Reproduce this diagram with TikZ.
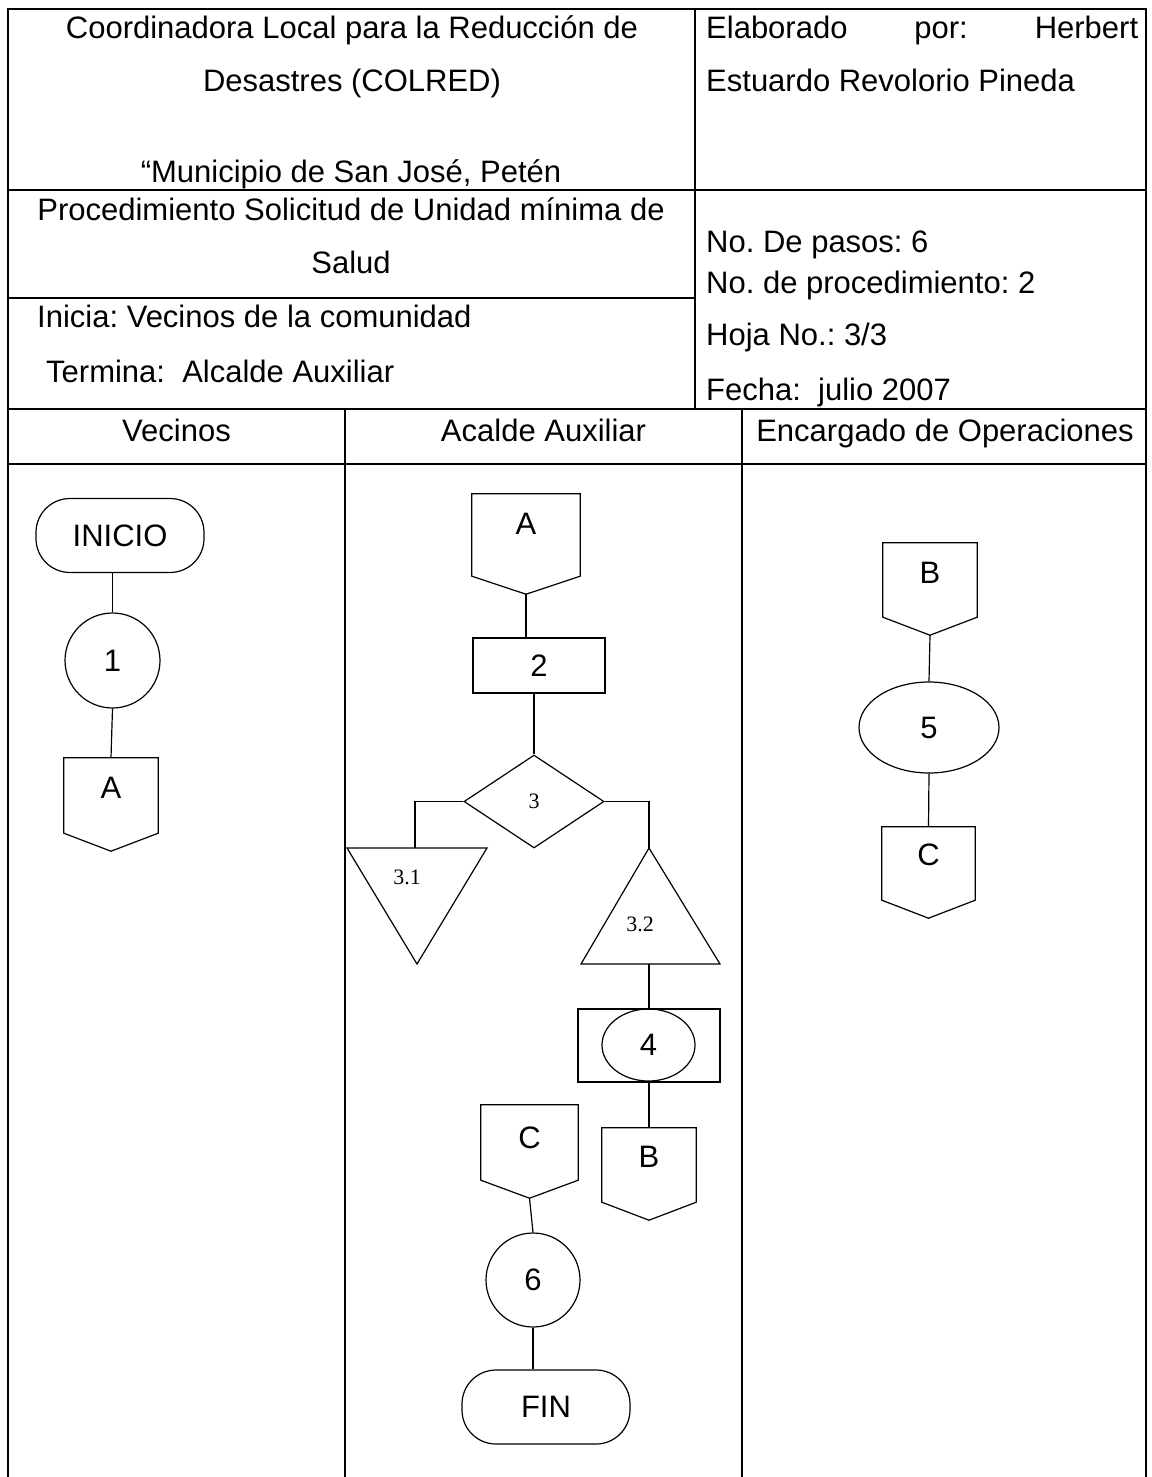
\documentclass[tikz,border=0pt]{standalone}
\usepackage{fontspec}
\setmainfont{Liberation Sans}
\newfontfamily\numfont{Liberation Serif}
\usetikzlibrary{shapes.geometric}
\frenchspacing
\newcommand{\offpg}[6]{%
  \node[opbox, minimum width=#3, minimum height=#4] (#1) at #2 {};
  \coordinate (#1-tip) at ([yshift=-18pt]#1.south);
  \draw[fline] (#1.north west) -- (#1.north east) -- (#1.south east) -- (#1-tip) -- (#1.south west) -- cycle;
  \node[txt] (#1-t) at ([yshift=#6]#1.center) {#5};
}
\begin{document}
\frenchspacing
\begin{tikzpicture}[x=1pt,y=-1pt,
  tline/.style={line width=2.4pt},
  fline/.style={line width=1.2pt},
  txt/.style={inner sep=0pt, font=\fontsize{31}{36}\selectfont},
  nums/.style={inner sep=0pt, font=\numfont\fontsize{22}{26}\selectfont},
  term/.style={draw, fline, rectangle, rounded corners=34pt, minimum width=168pt, minimum height=74pt, inner sep=0pt, font=\fontsize{31}{36}\selectfont},
  stepcircle/.style={draw, fline, circle, minimum size=95pt, inner sep=0pt, font=\fontsize{31}{36}\selectfont},
  stepell/.style={draw, fline, ellipse, inner sep=0pt, font=\fontsize{31}{36}\selectfont},
  steprect/.style={draw, fline, rectangle, inner sep=0pt, font=\fontsize{31}{36}\selectfont},
  opbox/.style={rectangle, inner sep=0pt},
]
\useasboundingbox (0,0) rectangle (1151,1477);
\fill[white] (0,0) rectangle (1151,1477);

% ---------- table lines ----------
\draw[tline] (8,1477) -- (8,9) -- (1146,9) -- (1146,1477);
\draw[tline] (8,190) -- (1146,190);
\draw[tline] (8,298) -- (695,298);
\draw[tline] (8,409) -- (1146,409);
\draw[tline] (8,464) -- (1146,464);
\draw[tline] (695,9) -- (695,409);
\draw[tline] (345,409) -- (345,1477);
\draw[tline] (742,409) -- (742,1477);

% ---------- header texts ----------
\node[txt, anchor=base] (h1) at (352,39) {Coordinadora Local para la Reducción de};
\node[txt, anchor=base] (h2) at (352,92) {Desastres (COLRED)};
\node[txt, anchor=base] (h3) at (351,182) {“Municipio de San José, Petén};
\node[txt, anchor=base west] (h4) at (706,39) {\hbox to 432pt{Elaborado\hfill por:\hfill Herbert}};
\node[txt, anchor=base west] (h5) at (706,92) {Estuardo Revolorio Pineda};
\node[txt, anchor=base] (h6) at (351,220) {Procedimiento Solicitud de Unidad mínima de};
\node[txt, anchor=base] (h7) at (351,273) {Salud};
\node[txt, anchor=base west] (h8) at (37,327) {Inicia: Vecinos de la comunidad};
\node[txt, anchor=base west] (h9) at (46,382) {Termina:\ \ Alcalde Auxiliar};
\node[txt, anchor=base west] (h10) at (706,252) {No. De pasos: 6};
\node[txt, anchor=base west] (h11) at (706,293) {No. de procedimiento: 2};
\node[txt, anchor=base west] (h12) at (706,345) {Hoja No.: 3/3};
\node[txt, anchor=base west] (h13) at (706,400) {Fecha:\ \ julio 2007};
\node[txt, anchor=base] (l1) at (176.5,441) {Vecinos};
\node[txt, anchor=base] (l2) at (543.5,441) {Acalde Auxiliar};
\node[txt, anchor=base] (l3) at (945,441) {Encargado de Operaciones};

% ---------- Vecinos lane ----------
\node[term] (inicio) at (120,535.5) {INICIO};
\node[stepcircle] (c1) at (112.5,660.5) {1};
\offpg{vA}{(111,795.5)}{94pt}{75pt}{A}{7.5pt}
\draw[fline] (c1.north |- inicio.south) -- (c1.north);
\draw[fline] (c1.south) -- (vA.north);

% ---------- Alcalde lane ----------
\offpg{aA}{(526,535)}{108pt}{82pt}{A}{11pt}
\node[steprect, minimum width=132pt, minimum height=55pt] (r2) at (539,665.5) {2};
\node[draw, fline, diamond, minimum width=140pt, minimum height=93pt, inner sep=0pt] (d) at (534,801.5) {};
\node[nums] (d-t) at (d.center) {3};
\draw[fline] (aA-tip) -- (aA-tip |- r2.north);
\draw[fline] (d.north |- r2.south) -- (d.north);

% triangle 3.1 (inverted)
\coordinate (t31top) at (415,848);
\coordinate (t31a) at (347,848);
\coordinate (t31b) at (487,848);
\coordinate (t31c) at (417,964);
\draw[fline] (t31a) -- (t31b) -- (t31c) -- cycle;
\node[nums] (t31) at (407,877) {3.1};
% triangle 3.2
\coordinate (t32apex) at (649,848);
\coordinate (t32a) at (581,964);
\coordinate (t32b) at (720,964);
\coordinate (t32base) at (649,964);
\draw[fline] (t32apex) -- (t32b) -- (t32a) -- cycle;
\node[nums] (t32) at (640,924) {3.2};
\draw[fline] (d.west) -| (t31top);
\draw[fline] (d.east) -| (t32apex);

\node[steprect, minimum width=142pt, minimum height=73pt] (r4) at (649,1045.5) {};
\node[stepell, minimum width=93pt, minimum height=72pt] (e4) at (648.5,1045) {4};
\draw[fline] (t32base) -- (r4.north);
\offpg{aB}{(649,1165)}{94pt}{74pt}{B}{8pt}
\draw[fline] (r4.south) -- (aB.north);

\offpg{aC}{(529.5,1142.5)}{97pt}{75pt}{C}{5pt}
\node[stepcircle, minimum size=94pt] (c6) at (533,1280) {6};
\node[term] (fin) at (546,1407) {FIN};
\draw[fline] (aC-tip) -- (c6.north);
\draw[fline] (c6.south) -- (c6.south |- fin.north);

% ---------- Encargado lane ----------
\offpg{eB}{(930,580)}{94pt}{74pt}{B}{7pt}
\node[stepell, minimum width=140pt, minimum height=91pt] (e5) at (929,727.5) {5};
\offpg{eC}{(928.5,863.5)}{93pt}{73pt}{C}{9pt}
\draw[fline] (eB-tip) -- (e5.north);
\draw[fline] (e5.south) -- (eC.north);
\end{tikzpicture}
\end{document}
